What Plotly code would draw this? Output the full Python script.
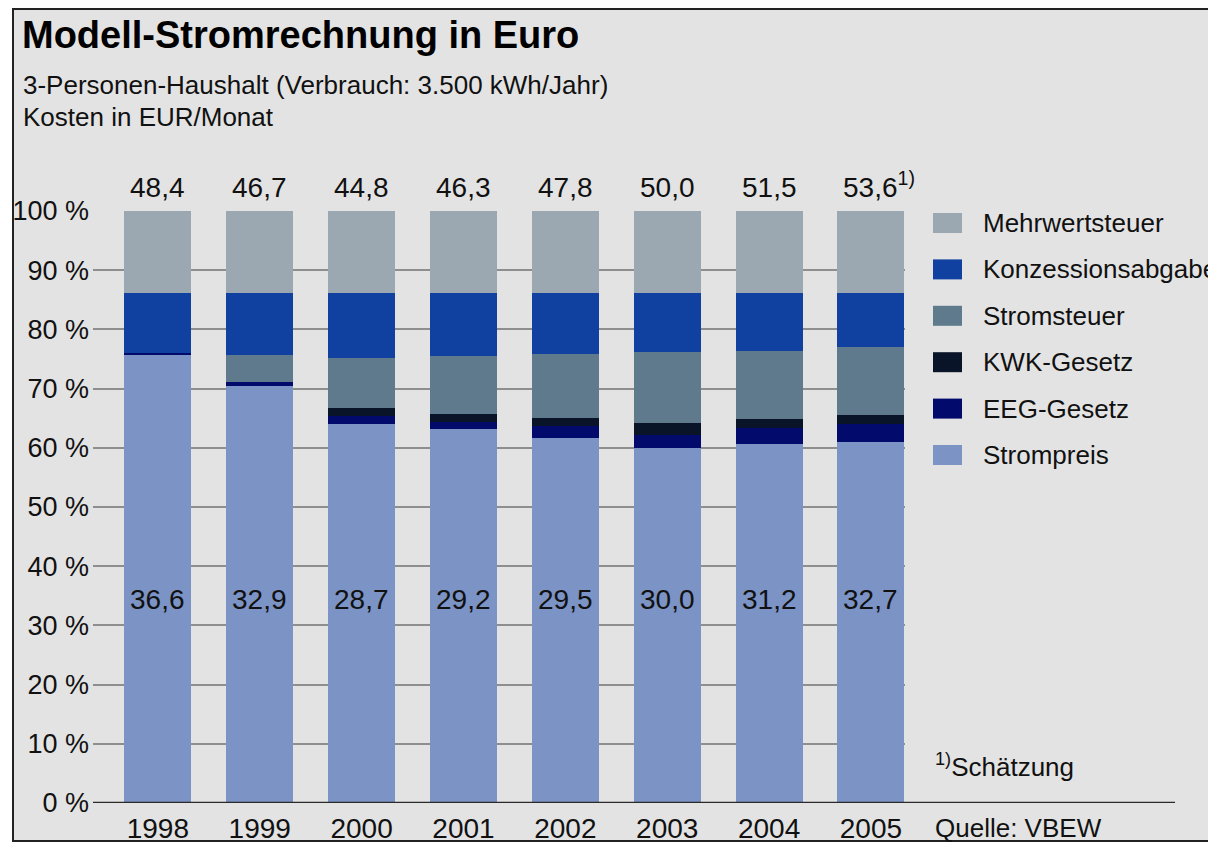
import plotly.graph_objects as go

# ---- data ----
years = ["1998", "1999", "2000", "2001", "2002", "2003", "2004", "2005"]
totals = ["48,4", "46,7", "44,8", "46,3", "47,8", "50,0", "51,5", "53,6"]
strompreis_eur = ["36,6", "32,9", "28,7", "29,2", "29,5", "30,0", "31,2", "32,7"]

# shares in percent (bottom to top)
strompreis = [75.6, 70.4, 64.1, 63.1, 61.7, 60.0, 60.6, 61.0]
eeg = [0.4, 0.7, 1.2, 1.2, 1.9, 2.2, 2.8, 3.0]
kwk = [0.0, 0.0, 1.5, 1.4, 1.4, 2.0, 1.5, 1.5]
stromsteuer = [0.0, 4.5, 8.3, 9.8, 10.8, 12.0, 11.5, 11.5]
konzession = [10.2, 10.6, 11.1, 10.7, 10.4, 10.0, 9.8, 9.2]
mwst = [13.8, 13.8, 13.8, 13.8, 13.8, 13.8, 13.8, 13.8]

series_names = ["Strompreis", "EEG-Gesetz", "KWK-Gesetz", "Stromsteuer",
                "Konzessionsabgabe", "Mehrwertsteuer"]
series_values = [strompreis, eeg, kwk, stromsteuer, konzession, mwst]
series_colors = ["#7b93c5", "#020b6b", "#0a1428", "#5e7a8c", "#1040a0", "#9ba8b2"]

y_ticks = list(range(0, 101, 10))
y_ticktext = [f"{v} %" for v in y_ticks]

# the page body adds an 8px offset; design in page pixels and convert
OFF = 8
W, H = 1216 - OFF, 843 - OFF
FONT = "Liberation Sans"

def px_x(x):
    return (x - OFF) / W

def px_y(y):
    return 1 - (y - OFF) / H

fig = go.Figure()
for name, vals, col in zip(series_names, series_values, series_colors):
    fig.add_trace(go.Bar(x=years, y=vals, name=name, marker_color=col,
                         marker_line_width=0, showlegend=False,
                         hoverinfo="x+y+name"))

# layout geometry (page pixels)
x_left_px, x_right_px = 93, 905
y_bot_px, y_top_px = 803, 211
c0, step = 157.85, 101.87
xr = [(x_left_px - c0) / step, (x_right_px - c0) / step]

fig.update_layout(
    width=W, height=H,
    margin=dict(l=0, r=0, t=0, b=0, pad=0),
    paper_bgcolor="white",
    plot_bgcolor="rgba(0,0,0,0)",
    barmode="stack",
    bargap=0.342,
    font=dict(family=FONT, color="#111111"),
    xaxis=dict(domain=[px_x(x_left_px), px_x(x_right_px)], range=xr,
               type="category", showgrid=False, zeroline=False, showline=False,
               ticks="", tickfont=dict(size=28, family=FONT, color="#111"),
               ticklabelstandoff=6, automargin=False),
    yaxis=dict(domain=[px_y(y_bot_px), px_y(y_top_px)], range=[0, 100],
               tickmode="array", tickvals=y_ticks, ticktext=y_ticktext,
               showgrid=True, gridcolor="#8e8e8e", gridwidth=1.5, zeroline=False,
               showline=False, ticks="",
               tickfont=dict(size=27, family=FONT, color="#111"),
               ticklabelstandoff=3, automargin=False),
)

shapes = []
# frame / background
shapes.append(dict(type="rect", xref="paper", yref="paper",
                   x0=px_x(13), x1=px_x(1213), y0=px_y(841), y1=px_y(9),
                   fillcolor="#e3e3e3", line=dict(color="#222", width=2),
                   layer="below"))
# baseline
shapes.append(dict(type="line", xref="paper", yref="y",
                   x0=px_x(x_left_px), x1=px_x(1175), y0=0, y1=0,
                   line=dict(color="#2a2a2a", width=2.5), layer="above"))

annotations = []
# title / subtitle
annotations.append(dict(text="<b>Modell-Stromrechnung in Euro</b>", xref="paper", yref="paper",
                        x=px_x(20), y=px_y(35), xanchor="left", yanchor="middle",
                        showarrow=False, font=dict(size=38, family=FONT, color="#000")))
annotations.append(dict(text="3-Personen-Haushalt (Verbrauch: 3.500 kWh/Jahr)", xref="paper", yref="paper",
                        x=px_x(21), y=px_y(85), xanchor="left", yanchor="middle",
                        showarrow=False, font=dict(size=26, family=FONT, color="#111")))
annotations.append(dict(text="Kosten in EUR/Monat", xref="paper", yref="paper",
                        x=px_x(21), y=px_y(117), xanchor="left", yanchor="middle",
                        showarrow=False, font=dict(size=26, family=FONT, color="#111")))

# total labels on top (x given as category index)
for i, t in enumerate(totals):
    last = i == len(totals) - 1
    txt = t + ("<sup>1)</sup>" if last else "")
    annotations.append(dict(text=txt, x=i, y=100, xref="x", yref="y",
                            xanchor="center", yanchor="bottom", yshift=6,
                            xshift=(8 if last else 0),
                            showarrow=False, font=dict(size=28, family=FONT, color="#111")))
# Strompreis labels inside bars
for i, t in enumerate(strompreis_eur):
    annotations.append(dict(text=t, x=i, y=34.3, xref="x", yref="y",
                            xanchor="center", yanchor="middle", showarrow=False,
                            font=dict(size=28, family=FONT, color="#111")))

# legend (top to bottom: reverse of stacking)
for k, (name, col) in enumerate(zip(series_names[::-1], series_colors[::-1])):
    cy = 223 + 46.4 * k
    shapes.append(dict(type="rect", xref="paper", yref="paper",
                       x0=px_x(933), x1=px_x(962), y0=px_y(cy + 10), y1=px_y(cy - 10),
                       fillcolor=col, line=dict(width=0)))
    annotations.append(dict(text=name, xref="paper", yref="paper",
                            x=px_x(981), y=px_y(cy), xanchor="left", yanchor="middle",
                            showarrow=False, font=dict(size=26, family=FONT, color="#111")))

annotations.append(dict(text="<sup>1)</sup>Schätzung", xref="paper", yref="paper",
                        x=px_x(933), y=px_y(765), xanchor="left", yanchor="middle",
                        showarrow=False, font=dict(size=26, family=FONT, color="#111")))
annotations.append(dict(text="Quelle: VBEW", xref="paper", yref="paper",
                        x=px_x(933), y=px_y(828), xanchor="left", yanchor="middle",
                        showarrow=False, font=dict(size=26, family=FONT, color="#111")))

fig.update_layout(shapes=shapes, annotations=annotations)
fig.write_html("out.html")
